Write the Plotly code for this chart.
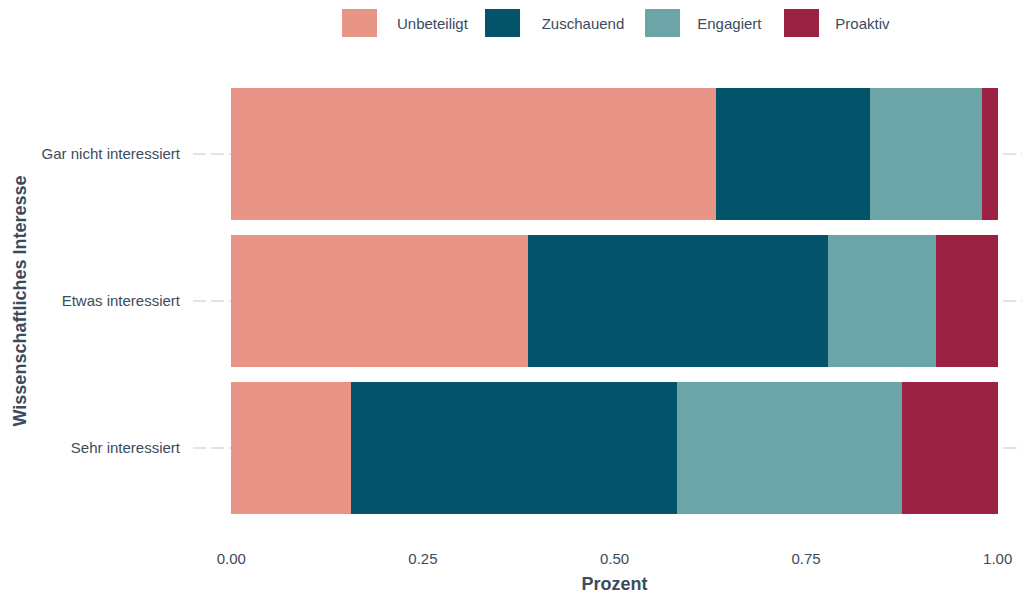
import plotly.graph_objects as go

categories = ["Gar nicht interessiert", "Etwas interessiert", "Sehr interessiert"]
series_names = ["Unbeteiligt", "Zuschauend", "Engagiert", "Proaktiv"]
unbeteiligt = [0.632, 0.387, 0.156]
zuschauend = [0.201, 0.391, 0.425]
engagiert = [0.147, 0.142, 0.294]
proaktiv = [0.020, 0.080, 0.125]
colors = ["#E89487", "#03546A", "#6CA5A7", "#9B2242"]
x_ticks = [0.0, 0.25, 0.5, 0.75, 1.0]
x_ticklabels = ["0.00", "0.25", "0.50", "0.75", "1.00"]

TEXT = "#3C4B5C"
FONT = "Liberation Sans, Arial, sans-serif"

W, H = 1030, 593
ML, MR, MT, MB = 185, 2, 58, 65
PW, PH = W - ML - MR, H - MT - MB


def px2paper_x(px):
    return (px - ML) / PW


def px2paper_y(py):
    return (H - MB - py) / PH


fig = go.Figure()
for name, vals, col in zip(series_names, [unbeteiligt, zuschauend, engagiert, proaktiv], colors):
    fig.add_trace(go.Bar(
        y=categories, x=vals, name=name, orientation="h",
        marker=dict(color=col, line=dict(width=0)),
        width=0.9,
    ))

# enlarge legend keys: same-colour squares under the legend symbols
square_left = [334, 477, 637, 776]
shapes = []
for left, col in zip(square_left, colors):
    shapes.append(dict(
        type="rect", xref="paper", yref="paper",
        x0=px2paper_x(left), x1=px2paper_x(left + 35),
        y0=px2paper_y(29), y1=px2paper_y(1),
        fillcolor=col, line=dict(width=0), layer="above",
    ))

fig.update_layout(
    barmode="stack",
    width=W, height=H,
    paper_bgcolor="white", plot_bgcolor="white",
    margin=dict(l=ML, r=MR, t=MT, b=MB, autoexpand=False),
    font=dict(family=FONT, color=TEXT, size=15),
    shapes=shapes,
    legend=dict(
        orientation="h", x=px2paper_x(321), xanchor="left",
        y=px2paper_y(15), yanchor="middle",
        font=dict(size=15, color=TEXT), itemwidth=58, traceorder="normal",
        bgcolor="rgba(0,0,0,0)",
    ),
    xaxis=dict(
        range=[-0.05, 1.05], tickvals=x_ticks, ticktext=x_ticklabels,
        showgrid=False, zeroline=False, showline=False, ticks="",
        tickfont=dict(size=15, color=TEXT), ticklabelstandoff=12,
        title=dict(text="<b>Prozent</b>", font=dict(size=18, color=TEXT), standoff=11),
        automargin=False,
    ),
    yaxis=dict(
        categoryorder="array", categoryarray=categories[::-1],
        range=[-0.6, 2.6],
        showgrid=True, gridcolor="#E3E3E3", gridwidth=1.5, griddash="13px,5px",
        zeroline=False, showline=False, ticks="",
        tickfont=dict(size=15, color=TEXT), ticklabelstandoff=12,
        title=dict(text="<b>Wissenschaftliches Interesse</b>", font=dict(size=18, color=TEXT), standoff=10),
        automargin=False,
    ),
)

fig.write_html("out.html")
